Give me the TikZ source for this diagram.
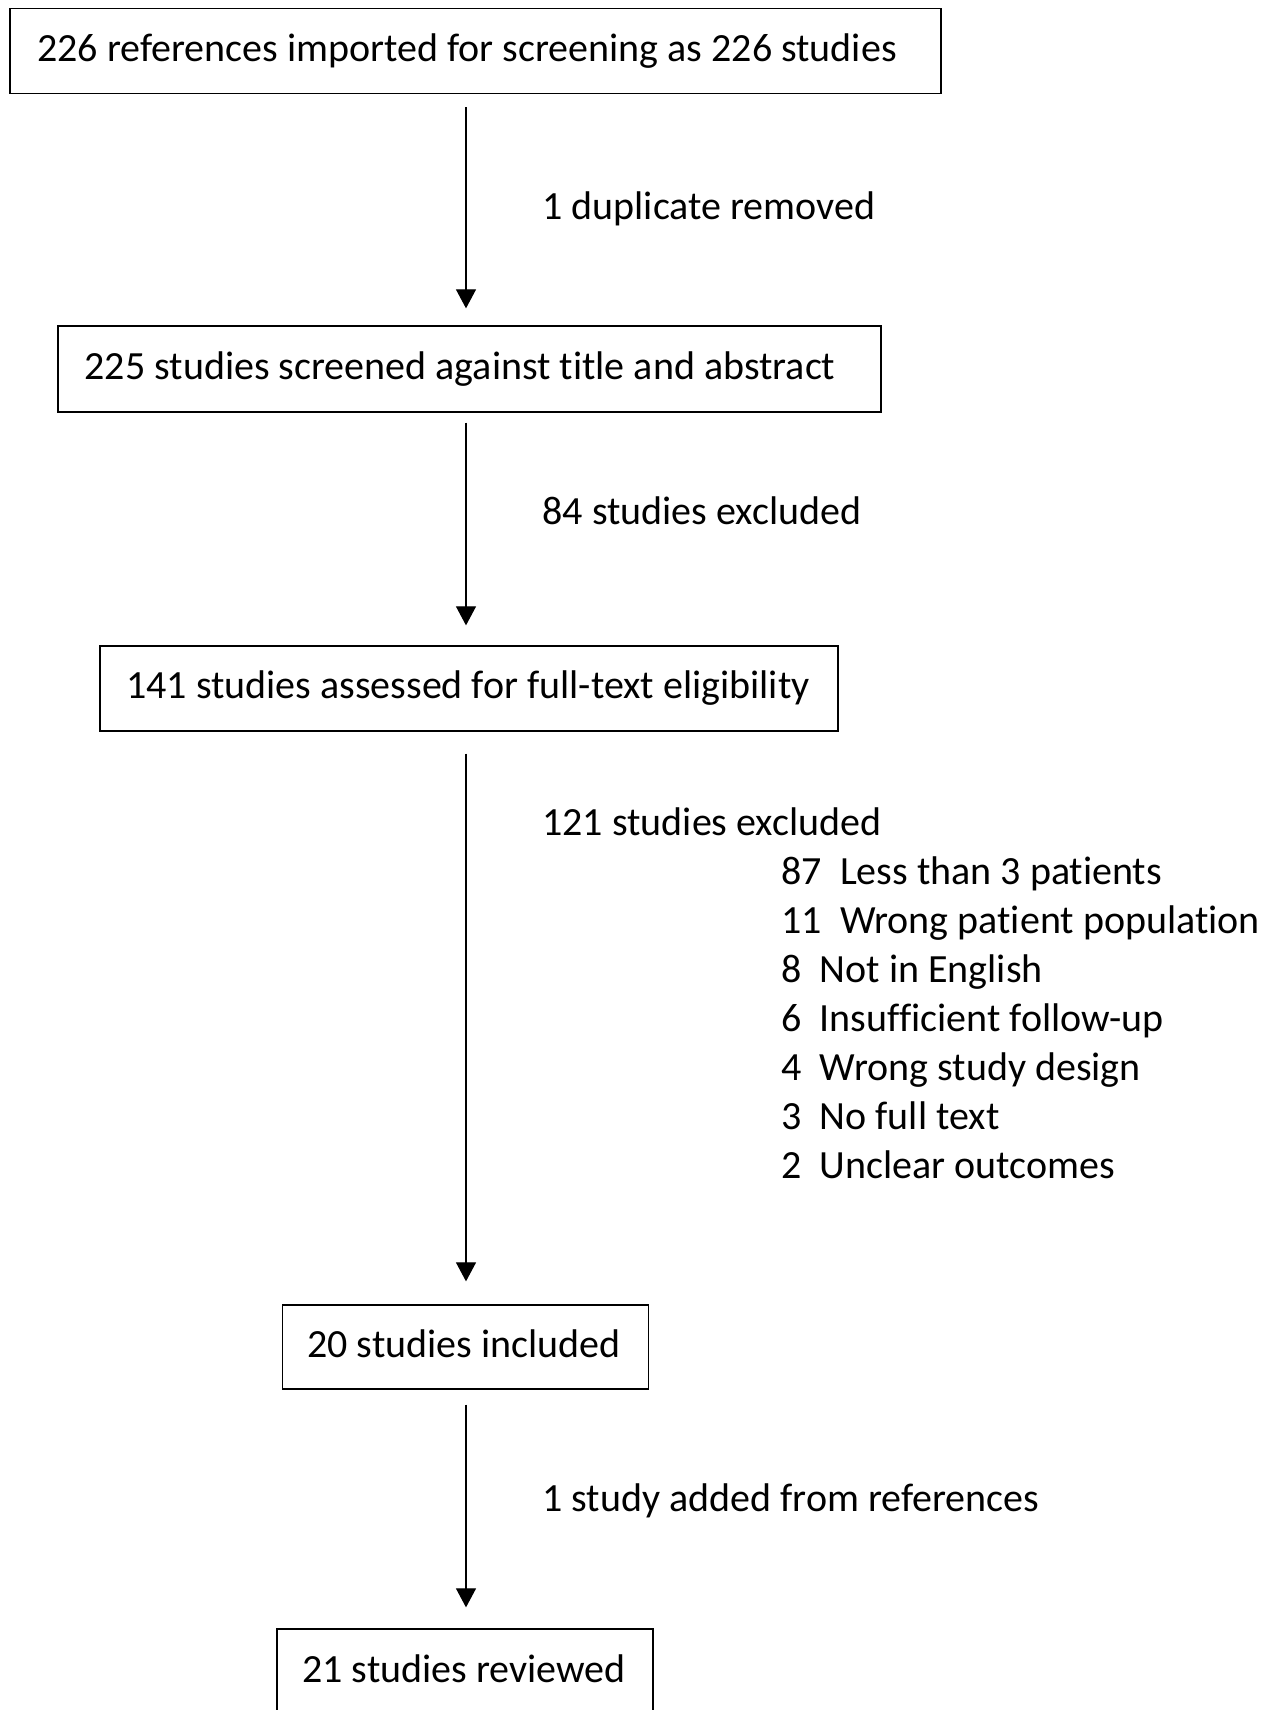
\documentclass[tikz,border=0pt]{standalone}
\usepackage{fontspec}
\setmainfont{Carlito}[Ligatures=NoCommon]
\usetikzlibrary{arrows.meta,calc}
\begin{document}
\begin{tikzpicture}[x=0.5pt,y=-0.5pt,
  box/.style={draw=black,line width=0.65pt,rectangle,inner sep=0pt},
  txt/.style={font=\fontsize{20}{24}\selectfont,anchor=base,inner sep=0pt},
  lbl/.style={font=\fontsize{20}{24}\selectfont,anchor=base west,inner sep=0pt},
  arr/.style={line width=0.55pt,-{Triangle[width=10pt,length=9.5pt]}}]
\clip (0,0) rectangle (1271,1710);
\fill[white] (0,0) rectangle (1271,1710);
\coordinate (axis) at (466,0);
% boxes
\node[box,minimum width=465.5pt,minimum height=42.5pt] (b1) at (475.5,51) {};
\node[box,minimum width=411.5pt,minimum height=43pt] (b2) at (469.5,369) {};
\node[box,minimum width=369pt,minimum height=42.5pt] (b3) at (469,688.5) {};
\node[box,minimum width=183pt,minimum height=42pt] (b4) at (465.5,1347) {};
\node[box,minimum width=188pt,minimum height=50pt] (b5) at (465,1679) {};
% box texts
\node[txt] (t1) at (467,61) {226 references imported for screening as 226 studies};
\node[txt] (t2) at (460,379) {225 studies screened against title and abstract};
\node[txt] (t3) at (468,698) {141 studies assessed for full-text eligibility};
\node[txt] (t4) at (464,1357) {20 studies included};
\node[txt] (t5) at (464,1682) {21 studies reviewed};
% side labels
\node[lbl] (l1) at (542,219) {1 duplicate removed};
\node[lbl] (l2) at (542,524) {84 studies excluded};
\node[lbl] (l3) at (542,835) {121 studies excluded};
\node[lbl] (r1) at (781,884) {87\ \ Less than 3 patients};
\node[lbl] (r2) at (781,933) {11\ \ Wrong patient population};
\node[lbl] (r3) at (781,982) {8\ \ Not in English};
\node[lbl] (r4) at (781,1031) {6\ \ Insufficient follow-up};
\node[lbl] (r5) at (781,1080) {4\ \ Wrong study design};
\node[lbl] (r6) at (781,1129) {3\ \ No full text};
\node[lbl] (r7) at (781,1178) {2\ \ Unclear outcomes};
\node[lbl] (l4) at (542,1511) {1 study added from references};
% arrows
\draw[arr] ($(b1.south -| axis)+(0,13)$) -- ($(b2.north -| axis)+(0,-17)$);
\draw[arr] ($(b2.south -| axis)+(0,10)$) -- ($(b3.north -| axis)+(0,-20)$);
\draw[arr] ($(b3.south -| axis)+(0,22)$) -- ($(b4.north -| axis)+(0,-23)$);
\draw[arr] ($(b4.south -| axis)+(0,15)$) -- ($(b5.north -| axis)+(0,-21)$);
\end{tikzpicture}
\end{document}
